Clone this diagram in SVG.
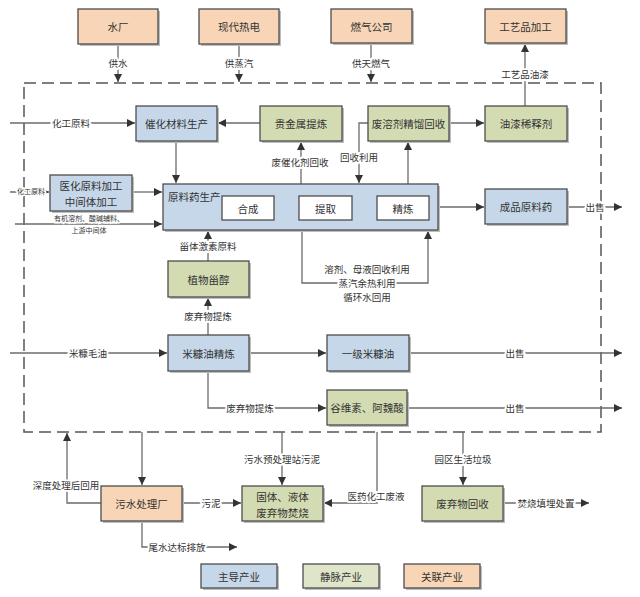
<svg xmlns="http://www.w3.org/2000/svg" width="640" height="597" viewBox="0 0 640 597">
<style>
.bx{stroke:#4d4d4d;stroke-width:1.3}
.sh{fill:#bdbdbd}
.b{fill:#c5d7e8}
.g{fill:#d3dbb2}
.o{fill:#f7d5b6}
.w{fill:#ffffff}
.lg{fill:#dfe5c9}
text{font-family:"Noto Sans CJK SC","Noto Sans",sans-serif;fill:#333;text-anchor:middle;dominant-baseline:central}
.t{font-size:10.5px}
.l{font-size:9.5px;stroke:#fff;stroke-width:4;paint-order:stroke;stroke-linejoin:round}
.s{font-size:7px;stroke:#fff;stroke-width:3;paint-order:stroke}
.c{fill:none;stroke:#6b6b6b;stroke-width:1.3}
.a{marker-end:url(#ah)}
</style>
<defs>
<marker id="ah" markerWidth="9" markerHeight="8" refX="8" refY="4" orient="auto" markerUnits="userSpaceOnUse"><path d="M0,0 L8,4 L0,8 z" fill="#333"/></marker>
</defs>
<rect width="640" height="597" fill="#fff"/>
<path d="M24,83 H601 V432 H24 Z" fill="none" stroke="#555" stroke-width="1.5" stroke-dasharray="12,6"/>
<g id="connectors">
<path class="c a" d="M118,44 V82"/>
<path class="c a" d="M239,44 V82"/>
<path class="c a" d="M371,43 V82"/>
<path class="c a" d="M525,106 V44"/>
<path class="c a" d="M10,123 H135"/>
<path class="c a" d="M260,123 H218"/>
<path class="c a" d="M449,123 H484"/>
<path class="c a" d="M176,141 V183"/>
<path class="c a" d="M301,184 V142"/>
<path class="c a" d="M368,123 H359 V183"/>
<path class="c a" d="M408,184 V142"/>
<path class="c a" d="M438,207 H484"/>
<path class="c a" d="M567,207 H622"/>
<path class="c a" d="M10,192 H49"/>
<path class="c a" d="M132,192 H162"/>
<path class="c a" d="M15,224 H162"/>
<path class="c a" d="M274,208 H298" style="stroke-width:2"/>
<path class="c a" d="M352,208 H376" style="stroke-width:2"/>
<path class="c a" d="M208,261 V231"/>
<path class="c a" d="M208,335 V298"/>
<path class="c a" d="M302,230 V283 H428 V231"/>
<path class="c a" d="M10,353 H167"/>
<path class="c a" d="M249,353 H326"/>
<path class="c a" d="M409,353 H622"/>
<path class="c a" d="M208,371 V408 H326"/>
<path class="c a" d="M407,408 H622"/>
<path class="c a" d="M101,503 H67 V433"/>
<path class="c a" d="M142,432 V485"/>
<path class="c a" d="M182,503 H241"/>
<path class="c a" d="M142,521 V547 H237"/>
<path class="c a" d="M282,432 V485"/>
<path class="c a" d="M377,432 V503 H324"/>
<path class="c a" d="M463,432 V485"/>
<path class="c a" d="M503,503 H589"/>
<text class="l" x="118" y="63">供水</text>
<text class="l" x="239" y="63">供蒸汽</text>
<text class="l" x="371" y="63">供天燃气</text>
<text class="l" x="525" y="74">工艺品油漆</text>
<text class="l" x="71" y="123">化工原料</text>
<text class="l" x="300" y="162">废催化剂回收</text>
<text class="l" x="359" y="157">回收利用</text>
<text class="l" x="595" y="207">出售</text>
<text class="s" x="31" y="191">化工原料</text>
<text class="s" x="89" y="218">有机溶剂、酸碱辅料、</text>
<text class="s" x="89" y="230">上游中间体</text>
<text class="l" x="208" y="246">甾体激素原料</text>
<text class="l" x="208" y="316">废弃物提炼</text>
<text class="l" x="367" y="269">溶剂、母液回收利用</text>
<text class="l" x="367" y="283">蒸汽余热利用</text>
<text class="l" x="367" y="297">循环水回用</text>
<text class="l" x="88" y="353">米糠毛油</text>
<text class="l" x="515" y="353">出售</text>
<text class="l" x="250" y="408">废弃物提炼</text>
<text class="l" x="515" y="408">出售</text>
<text class="l" x="66" y="485">深度处理后回用</text>
<text class="l" x="211" y="503">污泥</text>
<text class="l" x="177" y="547">尾水达标排放</text>
<text class="l" x="282" y="459">污水预处理站污泥</text>
<text class="l" x="376" y="496">医药化工废液</text>
<text class="l" x="463" y="459">园区生活垃圾</text>
<text class="l" x="546" y="503">焚烧填埋处置</text>
</g>
<g id="n-shuichang"><rect class="sh" x="80" y="11" width="80" height="35"/><rect class="bx o" x="78" y="9" width="80" height="35"/><text class="t" x="118" y="26.5">水厂</text></g>
<g id="n-redian"><rect class="sh" x="201" y="11" width="80" height="35"/><rect class="bx o" x="199" y="9" width="80" height="35"/><text class="t" x="239" y="26.5">现代热电</text></g>
<g id="n-ranqi"><rect class="sh" x="333" y="11" width="81" height="34"/><rect class="bx o" x="331" y="9" width="81" height="34"/><text class="t" x="371.5" y="26">燃气公司</text></g>
<g id="n-gongyipin"><rect class="sh" x="487" y="11" width="81" height="34"/><rect class="bx o" x="485" y="9" width="81" height="34"/><text class="t" x="525.5" y="26">工艺品加工</text></g>
<g id="n-cuihua"><rect class="sh" x="138" y="108" width="81" height="35"/><rect class="bx b" x="136" y="106" width="81" height="35"/><text class="t" x="176.5" y="123.5">催化材料生产</text></g>
<g id="n-guijinshu"><rect class="sh" x="262" y="108" width="82" height="35"/><rect class="bx g" x="260" y="106" width="82" height="35"/><text class="t" x="301" y="123.5">贵金属提炼</text></g>
<g id="n-feirongji"><rect class="sh" x="370" y="108" width="81" height="35"/><rect class="bx g" x="368" y="106" width="81" height="35"/><text class="t" x="408.5" y="123.5">废溶剂精馏回收</text></g>
<g id="n-youqi"><rect class="sh" x="487" y="108" width="82" height="35"/><rect class="bx g" x="485" y="106" width="82" height="35"/><text class="t" x="526" y="123.5">油漆稀释剂</text></g>
<g id="n-yihua"><rect class="sh" x="52" y="177" width="82" height="36"/><rect class="bx b" x="50" y="175" width="82" height="36"/><text class="t" x="91" y="185.5">医化原料加工</text><text class="t" x="91" y="201">中间体加工</text></g>
<g id="n-yuanliaoyao"><rect class="sh" x="165" y="186" width="275" height="46"/><rect class="bx b" x="163" y="184" width="275" height="46"/><text class="t" x="168" y="196" style="text-anchor:start">原料药生产</text></g>
<g id="n-hecheng"><rect class="bx w" x="222" y="196" width="52" height="24"/><text class="t" x="248" y="208">合成</text></g>
<g id="n-tiqu"><rect class="bx w" x="299" y="196" width="53" height="24"/><text class="t" x="325.5" y="208">提取</text></g>
<g id="n-jinglian"><rect class="bx w" x="377" y="196" width="52" height="24"/><text class="t" x="403" y="208">精炼</text></g>
<g id="n-chengpin"><rect class="sh" x="487" y="191" width="82" height="35"/><rect class="bx b" x="485" y="189" width="82" height="35"/><text class="t" x="526" y="206.5">成品原料药</text></g>
<g id="n-zhiwu"><rect class="sh" x="170" y="263" width="81" height="36"/><rect class="bx g" x="168" y="261" width="81" height="36"/><text class="t" x="208.5" y="279">植物甾醇</text></g>
<g id="n-mikang"><rect class="sh" x="170" y="337" width="81" height="36"/><rect class="bx b" x="168" y="335" width="81" height="36"/><text class="t" x="208.5" y="353">米糠油精炼</text></g>
<g id="n-yiji"><rect class="sh" x="329" y="337" width="82" height="36"/><rect class="bx b" x="327" y="335" width="82" height="36"/><text class="t" x="368" y="353">一级米糠油</text></g>
<g id="n-guweisu"><rect class="sh" x="329" y="392" width="80" height="35"/><rect class="bx g" x="327" y="390" width="80" height="35"/><text class="t" x="367" y="407.5">谷维素、阿魏酸</text></g>
<g id="n-wushui"><rect class="sh" x="103" y="488" width="81" height="35"/><rect class="bx o" x="101" y="486" width="81" height="35"/><text class="t" x="141.5" y="503.5">污水处理厂</text></g>
<g id="n-fenshao"><rect class="sh" x="244" y="488" width="81" height="35"/><rect class="bx g" x="242" y="486" width="81" height="35"/><text class="t" x="282.5" y="496">固体、液体</text><text class="t" x="282.5" y="512">废弃物焚烧</text></g>
<g id="n-huishou"><rect class="sh" x="424" y="488" width="81" height="35"/><rect class="bx g" x="422" y="486" width="81" height="35"/><text class="t" x="462.5" y="503.5">废弃物回收</text></g>
<g id="legend-zhudao"><rect class="sh" x="203" y="566" width="76" height="24"/><rect class="bx b" x="201" y="564" width="76" height="24"/><text class="t" x="239" y="576">主导产业</text></g>
<g id="legend-jingmai"><rect class="sh" x="305" y="566" width="76" height="24"/><rect class="bx lg" x="303" y="564" width="76" height="24"/><text class="t" x="341" y="576">静脉产业</text></g>
<g id="legend-guanlian"><rect class="sh" x="406" y="566" width="76" height="24"/><rect class="bx o" x="404" y="564" width="76" height="24"/><text class="t" x="442" y="576">关联产业</text></g>
</svg>
